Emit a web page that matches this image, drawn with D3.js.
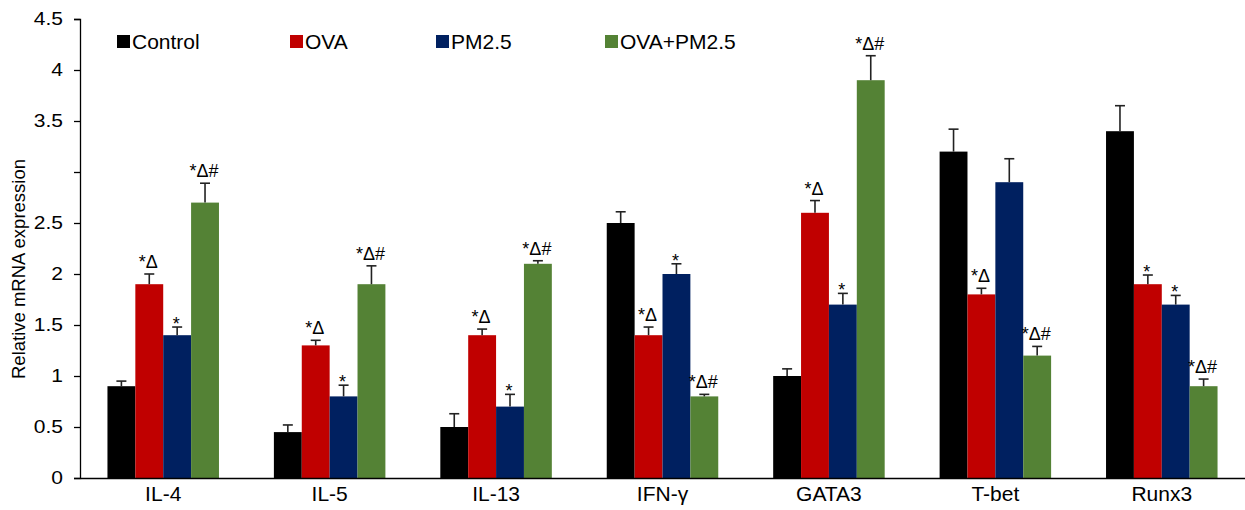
<!DOCTYPE html>
<html><head><meta charset="utf-8">
<script src="https://cdn.jsdelivr.net/npm/d3@7"></script>
<style>
body{margin:0;background:#fff;}
text{font-family:"Liberation Sans",Arial,sans-serif;fill:#000;}
</style></head>
<body><svg id="chart" width="1245" height="510"></svg>
<script>
// ---- data ----
const categories = ["IL-4","IL-5","IL-13","IFN-\u03b3","GATA3","T-bet","Runx3"];
const seriesNames = ["Control","OVA","PM2.5","OVA+PM2.5"];
const control   = [0.90, 0.45, 0.50, 2.50, 1.00, 3.20, 3.40];
const ova       = [1.90, 1.30, 1.40, 1.40, 2.60, 1.80, 1.90];
const pm25      = [1.40, 0.80, 0.70, 2.00, 1.70, 2.90, 1.70];
const ovaPm25   = [2.70, 1.90, 2.10, 0.80, 3.90, 1.20, 0.90];
const controlErr= [0.05, 0.07, 0.13, 0.11, 0.07, 0.22, 0.25];
const ovaErr    = [0.10, 0.05, 0.06, 0.08, 0.12, 0.06, 0.09];
const pm25Err   = [0.08, 0.11, 0.12, 0.10, 0.11, 0.23, 0.09];
const ovaPm25Err= [0.19, 0.18, 0.03, 0.02, 0.24, 0.09, 0.07];
const controlSig= ["","","","","","",""];
const ovaSig    = ["*\u0394","*\u0394","*\u0394","*\u0394","*\u0394","*\u0394","*"];
const pm25Sig   = ["*","*","*","*","*","","*"];
const ovaPm25Sig= ["*\u0394#","*\u0394#","*\u0394#","*\u0394#","*\u0394#","*\u0394#","*\u0394#"];
const yTicks = [0,0.5,1,1.5,2,2.5,3,3.5,4,4.5];
const hiddenTickLabels = [3];

const colors = ["#000000","#C00000","#002060","#548235"];
const values = [control, ova, pm25, ovaPm25];
const errs = [controlErr, ovaErr, pm25Err, ovaPm25Err];
const sigs = [controlSig, ovaSig, pm25Sig, ovaPm25Sig];

// ---- layout ----
const svg = d3.select("#chart");
const mLeft = 80, mRight = 1245, mTop = 19, mBottom = 478;
const SX = 1.2;

const x = d3.scaleBand().domain(categories).range([mLeft, mRight]).paddingInner(0.33).paddingOuter(0.165);
const xs = d3.scaleBand().domain(seriesNames).range([0, x.bandwidth()]).padding(0);
const y = d3.scaleLinear().domain([0, 4.5]).range([mBottom, mTop]);

const rows = [];
categories.forEach((c, i) => {
  seriesNames.forEach((s, j) => {
    rows.push({c, s, j, v: values[j][i], e: errs[j][i], sig: sigs[j][i]});
  });
});

// bars
svg.append("g").selectAll("rect").data(rows).join("rect")
  .attr("x", d => x(d.c) + xs(d.s))
  .attr("y", d => y(d.v))
  .attr("width", xs.bandwidth())
  .attr("height", d => y(0) - y(d.v))
  .attr("fill", d => colors[d.j]);

// error bars
const eg = svg.append("g").attr("stroke", "#222").attr("stroke-width", 1.6);
rows.forEach(d => {
  const cx = x(d.c) + xs(d.s) + xs.bandwidth() / 2;
  eg.append("line").attr("x1", cx).attr("x2", cx).attr("y1", y(d.v)).attr("y2", y(d.v + d.e));
  eg.append("line").attr("x1", cx - 5).attr("x2", cx + 5).attr("y1", y(d.v + d.e)).attr("y2", y(d.v + d.e));
});

// significance labels
svg.append("g").selectAll("text").data(rows.filter(d => d.sig)).join("text")
  .attr("x", d => x(d.c) + xs(d.s) + xs.bandwidth() / 2 - 1)
  .attr("y", d => y(d.v + d.e) + (d.sig === "*" ? 3 : -6))
  .attr("text-anchor", "middle")
  .style("font-size", "18px")
  .text(d => d.sig);

// y axis
const yAxis = svg.append("g").attr("transform", `translate(${mLeft},0)`)
  .call(d3.axisLeft(y).tickValues(yTicks).tickSize(6).tickPadding(11)
    .tickFormat(d => hiddenTickLabels.includes(d) ? "" : String(d)));
yAxis.select(".domain").attr("stroke", "#000").attr("stroke-width", 1.3);
yAxis.selectAll(".tick line").attr("stroke", "#000").attr("stroke-width", 1.3);
yAxis.selectAll(".tick text")
  .attr("x", -17 / SX)
  .attr("transform", `scale(${SX},1)`)
  .style("font-size", "17.5px").style("font-family", "Liberation Sans, Arial, sans-serif").attr("fill", "#000");

// x axis
const xAxis = svg.append("g").attr("transform", `translate(0,${mBottom})`)
  .call(d3.axisBottom(x).tickSize(0).tickPadding(0));
xAxis.select(".domain").attr("stroke", "#000").attr("stroke-width", 1.6);
xAxis.selectAll(".tick text").remove();
xAxis.selectAll(".tick").append("text")
  .attr("y", 23)
  .attr("text-anchor", "middle")
  .style("font-size", "21px").attr("fill", "#000")
  .text(d => d);

// y label
svg.append("text")
  .attr("transform", `translate(25,269) rotate(-90)`)
  .attr("text-anchor", "middle")
  .style("font-size", "18.5px")
  .text("Relative mRNA expression");

// legend
const legendX = [117, 290, 436, 605];
const lg = svg.append("g").selectAll("g").data(seriesNames).join("g")
  .attr("transform", (d, i) => `translate(${legendX[i]},35)`);
lg.append("rect").attr("width", 13).attr("height", 13).attr("fill", (d, i) => colors[i]);
lg.append("text").attr("x", 15).attr("y", 13.5)
  .style("font-size", "21px").text(d => d);
</script></body></html>
